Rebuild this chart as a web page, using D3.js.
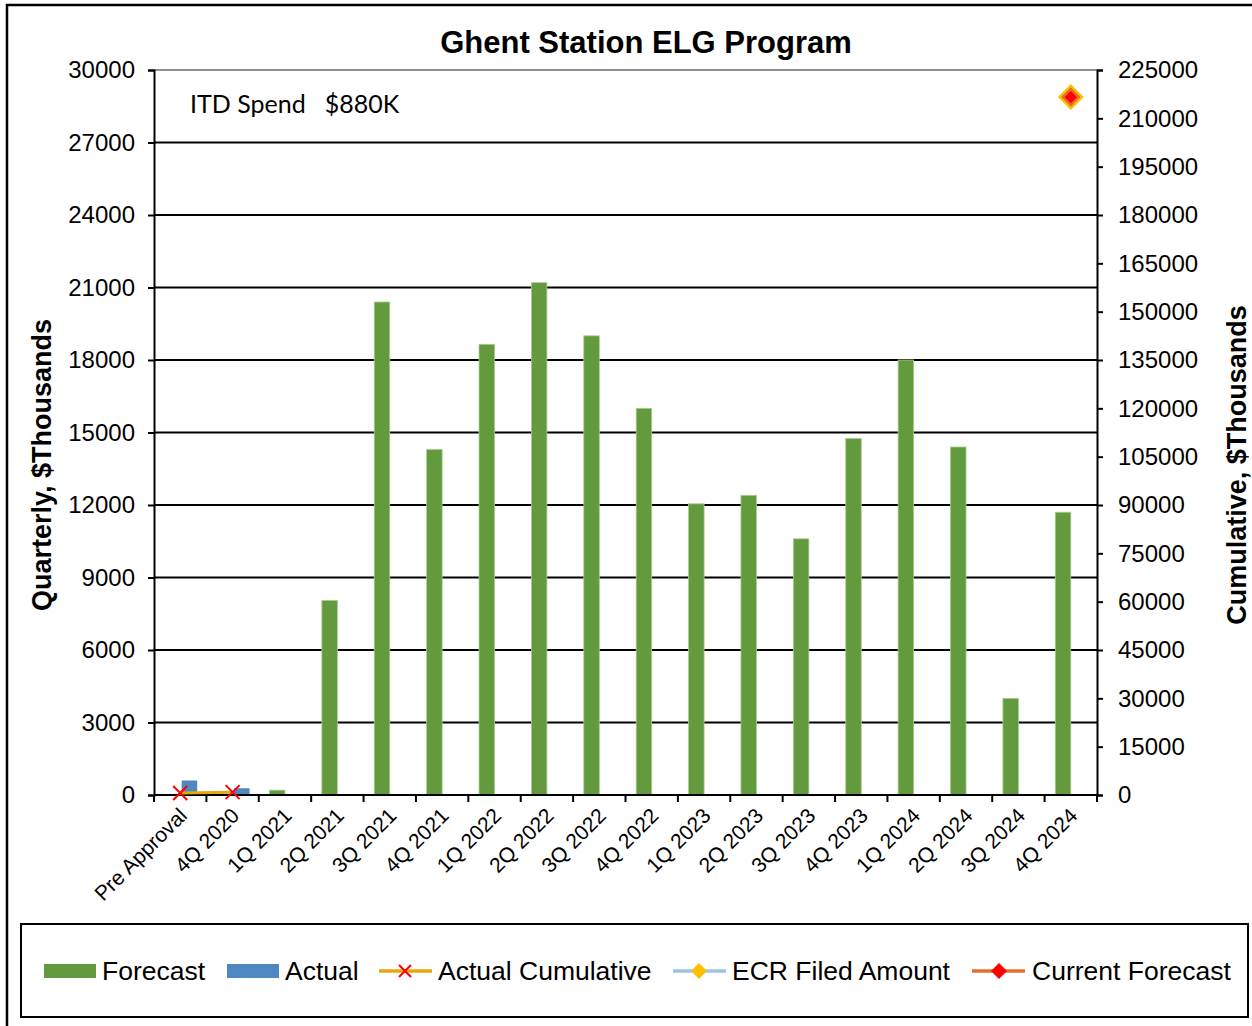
<!DOCTYPE html>
<html><head><meta charset="utf-8">
<script src="https://cdnjs.cloudflare.com/ajax/libs/d3/7.8.5/d3.min.js"></script>
<style>body{margin:0;background:#fff}svg{display:block}</style>
</head><body><svg id="c" width="1252" height="1026"></svg>
<script>
const categories = ["Pre Approval","4Q 2020","1Q 2021","2Q 2021","3Q 2021","4Q 2021","1Q 2022","2Q 2022","3Q 2022","4Q 2022","1Q 2023","2Q 2023","3Q 2023","4Q 2023","1Q 2024","2Q 2024","3Q 2024","4Q 2024"];
const forecast = [0,0,200,8050,20400,14300,18650,21200,19000,16000,12050,12400,10600,14750,18000,14400,4000,11700];
const actual = [600,280,null,null,null,null,null,null,null,null,null,null,null,null,null,null,null,null];
const actualCumulative = [600,880];
const ecrFiled = [{cat:"4Q 2024", value:216600}];
const currentForecast = [{cat:"4Q 2024", value:216600}];
const leftTicks = [0,3000,6000,9000,12000,15000,18000,21000,24000,27000,30000];
const rightTicks = [0,15000,30000,45000,60000,75000,90000,105000,120000,135000,150000,165000,180000,195000,210000,225000];

const svg = d3.select("#c");
const L = 154, R = 1097, T = 70, B = 795;
const FONT = "Liberation Sans, Arial";
const x = d3.scaleBand().domain(categories).range([L, R]);
const yL = d3.scaleLinear().domain([0, 30000]).range([B, T]);
const yR = d3.scaleLinear().domain([0, 225000]).range([B, T]);
const cx = c => x(c) + x.bandwidth()/2;
const bw = 15.5;

// outer border
svg.append("path").attr("d","M7,1030 L7,5 L1260,5").attr("fill","none").attr("stroke","#000").attr("stroke-width",2.5);

// title
svg.append("text").attr("x",646).attr("y",53).attr("text-anchor","middle")
  .style("font-family",FONT).style("font-weight","bold").style("font-size","31px").text("Ghent Station ELG Program");

// gridlines
svg.append("g").selectAll("line").data(leftTicks.filter(d=>d>0)).join("line")
  .attr("x1",L).attr("x2",R).attr("y1",d=>yL(d)).attr("y2",d=>yL(d))
  .attr("stroke",d=>d===30000?"#909090":"#000").attr("stroke-width",2);

// bars
svg.append("g").selectAll("rect").data(categories.map((c,i)=>({c,v:forecast[i]})).filter(d=>d.v>0)).join("rect")
  .attr("x",d=>cx(d.c)-bw).attr("width",bw).attr("y",d=>yL(d.v)).attr("height",d=>B-yL(d.v))
  .attr("fill","#629a3d").attr("stroke","#a8cc8c").attr("stroke-width",0.8);
svg.append("g").selectAll("rect").data(categories.map((c,i)=>({c,v:actual[i]})).filter(d=>d.v)).join("rect")
  .attr("x",d=>cx(d.c)+1.5).attr("width",bw).attr("y",d=>yL(d.v)).attr("height",d=>B-yL(d.v))
  .attr("fill","#4f88c0");

// axes
const axL = d3.axisLeft(yL).tickValues(leftTicks).tickSize(6).tickFormat(d3.format("d"));
const gL = svg.append("g").attr("transform",`translate(${L},0)`).call(axL);
const axR = d3.axisRight(yR).tickValues(rightTicks).tickSize(6).tickFormat(d3.format("d"));
const gR = svg.append("g").attr("transform",`translate(${R},0)`).call(axR);
const gX = svg.append("g").attr("transform",`translate(0,${B})`).call(d3.axisBottom(x).tickSize(0).tickFormat(""));
[gL,gR,gX].forEach(g=>{g.select(".domain").attr("stroke","#000").attr("stroke-width",2);
  g.selectAll(".tick line").attr("stroke","#000").attr("stroke-width",2);
  g.selectAll("text").style("font-family",FONT).style("font-size","24px").attr("fill","#000");});
gL.selectAll("text").attr("x",-19);
gR.selectAll("text").attr("x",21);
gX.select(".domain").attr("d",`M${L},0H${R}`);
// category boundary ticks
const bounds = categories.map(c=>x(c)).concat([R]);
svg.append("g").selectAll("line").data(bounds).join("line")
  .attr("x1",d=>d).attr("x2",d=>d).attr("y1",B).attr("y2",B+7).attr("stroke","#000").attr("stroke-width",2);
// category labels
svg.append("g").selectAll("text").data(categories).join("text")
  .attr("transform",d=>`translate(${cx(d)+8},${B+22}) rotate(-45)`)
  .attr("text-anchor","end").style("font-family",FONT).style("font-size","21px").text(d=>d);

// axis titles
svg.append("text").attr("transform","translate(51,465) rotate(-90)").attr("text-anchor","middle")
  .style("font-family",FONT).style("font-weight","bold").style("font-size","27px").text("Quarterly, $Thousands");
svg.append("text").attr("transform","translate(1246,465) rotate(-90)").attr("text-anchor","middle")
  .style("font-family",FONT).style("font-weight","bold").style("font-size","27px").text("Cumulative, $Thousands");

// ITD text
svg.append("text").attr("x",190).attr("y",113).style("font-family","Lato, Carlito, sans-serif").style("font-size","25px")
  .attr("xml:space","preserve").text("ITD Spend   $880K");

// actual cumulative line
const cumPts = actualCumulative.map((v,i)=>({c:categories[i],v}));
svg.append("path").datum(cumPts).attr("d",d3.line().x(d=>cx(d.c)).y(d=>yR(d.v)))
  .attr("fill","none").attr("stroke","#e3a90c").attr("stroke-width",3);
const xMark = (g, px, py, s) => {
  g.append("path").attr("d",`M${px-s},${py-s}L${px+s},${py+s}M${px-s},${py+s}L${px+s},${py-s}`)
    .attr("stroke","#ff0000").attr("stroke-width",2);
};
const gm = svg.append("g");
cumPts.forEach(d=>xMark(gm, cx(d.c), yR(d.v), 7));

// ECR filed diamond & current forecast
const diamond = (g,px,py,r,fill,stroke,sw)=> g.append("path")
  .attr("d",`M${px},${py-r}L${px+r},${py}L${px},${py+r}L${px-r},${py}Z`).attr("fill",fill).attr("stroke",stroke||"none").attr("stroke-width",sw||0);
ecrFiled.forEach(d=>diamond(svg,cx(d.cat),yR(d.value),13,"#ffc000"));
currentForecast.forEach(d=>diamond(svg,cx(d.cat),yR(d.value),8,"#ff0000","#e07030",2.5));

// legend
const lg = svg.append("g");
lg.append("rect").attr("x",21).attr("y",924).attr("width",1227).attr("height",93).attr("fill","none").attr("stroke","#000").attr("stroke-width",2);
const ly = 971;
const ft = (tx,t)=>lg.append("text").attr("x",tx).attr("y",ly+9).style("font-family",FONT).style("font-size","26.5px").text(t);
lg.append("rect").attr("x",44).attr("y",964).attr("width",52).attr("height",14).attr("fill","#629a3d"); ft(102,"Forecast");
lg.append("rect").attr("x",227).attr("y",964).attr("width",52).attr("height",14).attr("fill","#4f88c0"); ft(285,"Actual");
lg.append("line").attr("x1",379).attr("x2",432).attr("y1",ly).attr("y2",ly).attr("stroke","#e3a90c").attr("stroke-width",3.5);
xMark(lg,405,ly,6); ft(438,"Actual Cumulative");
lg.append("line").attr("x1",673).attr("x2",726).attr("y1",ly).attr("y2",ly).attr("stroke","#9dc3e6").attr("stroke-width",3.5);
diamond(lg,699,ly,8,"#ffc000"); ft(732,"ECR Filed Amount");
lg.append("line").attr("x1",972).attr("x2",1025).attr("y1",ly).attr("y2",ly).attr("stroke","#e07030").attr("stroke-width",3.5);
diamond(lg,999,ly,8,"#ff0000"); ft(1032,"Current Forecast");
</script></body></html>
